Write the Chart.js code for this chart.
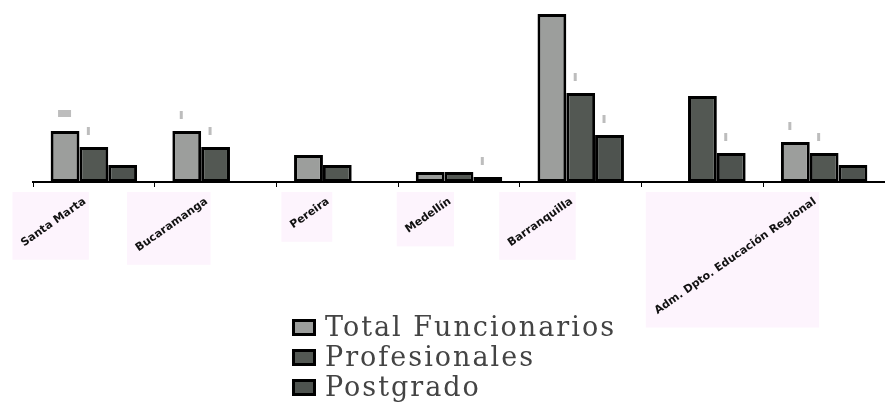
<!DOCTYPE html>
<html>
<head>
<meta charset="utf-8">
<script src="https://cdn.jsdelivr.net/npm/chart.js@4"></script>
<style>
  body { margin: 0; background: #fff; }
  #wrap { position: relative; width: 885px; height: 403px; }
  #legend { position: absolute; left: 292px; top: 312px; font-family: 'DejaVu Serif', serif; font-size: 27px; color: #444; letter-spacing: 2px; }
  #legend div { height: 30px; line-height: 30px; display: flex; align-items: center; }
  #legend span.sw { display: inline-block; width: 18px; height: 11px; border: 3px solid #000; margin-right: 9px; }
</style>
</head>
<body>
<div id="wrap">
  <canvas id="myChart" width="885" height="403"></canvas>
  <div id="legend"></div>
</div>
<script>
const sedes = ['Santa Marta', 'Bucaramanga', 'Pereira', 'Medellín', 'Barranquilla', '', 'Adm. Dpto. Educación Regional'];
const totalFuncionarios = [51, 51, 27, 10, 168, 0, 40];
const profesionales = [35, 35, 17, 10, 89, 86, 29];
const postgrado = [17, 0, 0, 5, 47, 29, 17];

const seriesNames = ['Total Funcionarios', 'Profesionales', 'Postgrado'];
const seriesColors = ['#9c9e9c', '#535853', '#4e534f'];

// small grey marks printed above some bars: [dataset, index, wide]
const valueMarks = [[0, 0, true], [1, 0], [0, 1], [1, 1], [2, 3], [1, 4], [2, 4], [2, 5], [0, 6], [1, 6]];

const tickFont = { family: 'DejaVu Sans', weight: 'bold', size: 11 };
const labelAngle = 35;
const labelShift = -9;

const labelBoxes = {
    id: 'labelBoxes',
    beforeDraw(chart) {
        const ctx = chart.ctx;
        const xs = chart.scales.x;
        const a = labelAngle * Math.PI / 180;
        ctx.save();
        ctx.font = 'bold 11px "DejaVu Sans"';
        ctx.fillStyle = '#fdf4fd';
        sedes.forEach((s, i) => {
            if (!s) return;
            const x = xs.getPixelForTick(i) + labelShift;
            const w = ctx.measureText(s).width;
            const top = xs.top + 10;
            ctx.fillRect(x - w * Math.cos(a) - 10, top, w * Math.cos(a) + 14, w * Math.sin(a) + 24);
        });
        ctx.restore();
    },
    afterDatasetsDraw(chart) {
        const ctx = chart.ctx;
        ctx.save();
        ctx.fillStyle = '#bdbdbd';
        valueMarks.forEach(([d, i, wide]) => {
            const el = chart.getDatasetMeta(d).data[i];
            if (wide) ctx.fillRect(el.x - 7, el.y - 21, 13, 7);
            else ctx.fillRect(el.x - 7, el.y - 20, 3, 8);
        });
        ctx.restore();
    }
};

const ctx = document.getElementById('myChart').getContext('2d');
new Chart(ctx, {
    type: 'bar',
    data: {
        labels: sedes,
        datasets: [
            { label: seriesNames[0], data: totalFuncionarios, backgroundColor: seriesColors[0] },
            { label: seriesNames[1], data: profesionales, backgroundColor: seriesColors[1] },
            { label: seriesNames[2], data: postgrado, backgroundColor: seriesColors[2] },
        ],
    },
    options: {
        responsive: false,
        animation: false,
        layout: { padding: { top: 2, left: 33, right: 0, bottom: 0 } },
        datasets: {
            bar: { borderColor: '#000', borderWidth: 3, borderSkipped: false, categoryPercentage: 0.71, barPercentage: 1.0 },
        },
        plugins: { legend: { display: false }, tooltip: { enabled: false } },
        scales: {
            y: { display: false, min: 0, max: 180 },
            x: {
                afterFit(scale) {
                    scale.height = 221;
                    scale.paddingLeft = 0;
                    scale.paddingRight = 0;
                },
                grid: { display: true, drawOnChartArea: false, drawTicks: true, tickLength: 5, color: '#000', lineWidth: 1, offset: true },
                border: { display: true, color: '#000', width: 2 },
                ticks: { autoSkip: false, minRotation: labelAngle, maxRotation: labelAngle, labelOffset: labelShift, padding: 8, color: '#111', font: tickFont },
            },
        },
    },
    plugins: [labelBoxes],
});

// legend as a column under the plot
const legend = document.getElementById('legend');
seriesNames.forEach((n, i) => {
    const row = document.createElement('div');
    row.innerHTML = '<span class="sw" style="background:' + seriesColors[i] + '"></span>' + n;
    legend.appendChild(row);
});
</script>
</body>
</html>
